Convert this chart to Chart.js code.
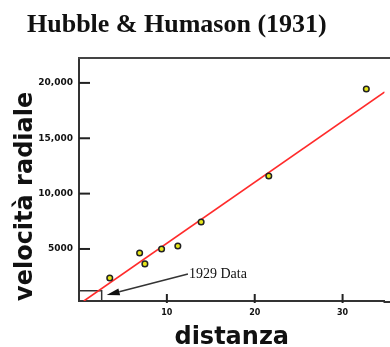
<!DOCTYPE html>
<html>
<head>
<meta charset="utf-8">
<script src="https://cdn.jsdelivr.net/npm/chart.js@4.4.1/dist/chart.umd.min.js"></script>
<style>
  html, body { margin: 0; padding: 0; background: #fff; }
  #wrap { width: 390px; height: 347px; }
</style>
</head>
<body>
<div id="wrap"><canvas id="canvas"></canvas></div>
<script>
// galaxy clusters
var distanza = [3.5, 6.9, 7.5, 9.4, 11.25, 13.9, 21.6, 32.7];
var velocita = [2380, 4640, 3650, 5000, 5270, 7440, 11590, 19450];

// red fitted line (end points)
var fitX = [0.55, 34.8];
var fitY = [300, 19180];

// small box of the 1929 data
var boxX = [0, 2.58, 2.58];
var boxY = [1230, 1230, 300];

// arrow + label pointing at the box
var arrowFrom = [12.4, 2740];
var arrowTo = [3.15, 840];
var arrowText = "1929 Data";

var xTicks = [10, 20, 30];
var xTickLabels = ["10", "20", "30"];
var yTicks = [5000, 10000, 15000, 20000];
var yTickLabels = ["5000", "10,000", "15,000", "20,000"];

var toPoints = function (xs, ys) {
  return xs.map(function (x, i) {
    return { x: x, y: ys[i] };
  });
};

// title, frame lines, inner tick marks, arrow and its label
var extras = {
  id: "extras",
  afterDraw: function (chart) {
    var ctx = chart.ctx;
    var a = chart.chartArea;
    var xs = chart.scales.x;
    var ys = chart.scales.y;
    ctx.save();

    ctx.fillStyle = "#111";
    ctx.font = "bold 26px 'Liberation Serif'";
    ctx.textBaseline = "alphabetic";
    ctx.textAlign = "left";
    ctx.fillText("Hubble & Humason (1931)", 27, 32);

    // top line, and the bottom axis carried on to the edge
    ctx.strokeStyle = "#444";
    ctx.lineWidth = 2;
    ctx.beginPath();
    ctx.moveTo(a.left - 1, a.top);
    ctx.lineTo(chart.width, a.top);
    ctx.stroke();
    ctx.strokeStyle = "#333";
    ctx.beginPath();
    ctx.moveTo(a.right - 1, a.bottom + 1);
    ctx.lineTo(chart.width, a.bottom + 1);
    ctx.stroke();

    ctx.strokeStyle = "#222";
    yTicks.forEach(function (v) {
      var py = ys.getPixelForValue(v);
      ctx.beginPath();
      ctx.moveTo(a.left, py);
      ctx.lineTo(a.left + 11, py);
      ctx.stroke();
    });
    xTicks.forEach(function (v) {
      var px = xs.getPixelForValue(v);
      ctx.beginPath();
      ctx.moveTo(px, a.bottom + 2);
      ctx.lineTo(px, a.bottom - 7);
      ctx.stroke();
    });

    var x1 = xs.getPixelForValue(arrowFrom[0]);
    var y1 = ys.getPixelForValue(arrowFrom[1]);
    var x2 = xs.getPixelForValue(arrowTo[0]);
    var y2 = ys.getPixelForValue(arrowTo[1]);
    var ang = Math.atan2(y2 - y1, x2 - x1);
    var len = 13;
    var bx = x2 - len * Math.cos(ang);
    var by = y2 - len * Math.sin(ang);
    var nx = -Math.sin(ang) * 3.5;
    var ny = Math.cos(ang) * 3.5;
    ctx.strokeStyle = "#333";
    ctx.lineWidth = 1.5;
    ctx.beginPath();
    ctx.moveTo(x1, y1);
    ctx.lineTo(bx, by);
    ctx.stroke();
    ctx.fillStyle = "#111";
    ctx.beginPath();
    ctx.moveTo(x2, y2);
    ctx.lineTo(bx + nx, by + ny);
    ctx.lineTo(bx - nx, by - ny);
    ctx.closePath();
    ctx.fill();

    ctx.font = "14px 'Liberation Serif'";
    ctx.textBaseline = "middle";
    ctx.fillText(arrowText, x1 + 1, y1);

    ctx.restore();
  },
};

const ctx = document.getElementById("canvas").getContext("2d");

const myChart = new Chart(ctx, {
  type: "scatter",
  data: {
    datasets: [
      {
        label: "galassie",
        data: toPoints(distanza, velocita),
        backgroundColor: "#e6e619",
        borderColor: "#222",
        borderWidth: 1.5,
        pointRadius: 2.8,
        order: 0,
      },
      {
        label: "fit",
        type: "line",
        data: toPoints(fitX, fitY),
        borderColor: "#ff2b2b",
        borderWidth: 1.6,
        pointRadius: 0,
        order: 1,
      },
      {
        label: "1929",
        type: "line",
        data: toPoints(boxX, boxY),
        borderColor: "#333",
        borderWidth: 1.5,
        pointRadius: 0,
        order: 2,
      },
    ],
  },
  options: {
    responsive: true,
    maintainAspectRatio: false,
    animation: false,
    layout: { padding: { top: 58, left: 0, right: 0, bottom: 0 } },
    plugins: {
      legend: { display: false },
      tooltip: { enabled: false },
    },
    scales: {
      x: {
        type: "linear",
        min: 0,
        max: 34.77,
        grid: { display: false, drawTicks: false },
        border: { color: "#333", width: 2 },
        afterBuildTicks: function (s) {
          s.ticks = xTicks.map(function (v) {
            return { value: v };
          });
        },
        afterFit: function (s) {
          s.height = 46;
          s.paddingLeft = 0;
          s.paddingRight = 0;
        },
        ticks: {
          padding: 7,
          color: "#111",
          font: { family: "DejaVu Sans", size: 8, weight: "bold" },
          callback: function (v) {
            return xTickLabels[xTicks.indexOf(v)];
          },
        },
        title: {
          display: true,
          text: "distanza",
          color: "#111",
          font: { family: "DejaVu Sans", size: 24, weight: "bold", lineHeight: 0.75 },
          padding: { top: 11, bottom: 0 },
        },
      },
      y: {
        type: "linear",
        min: 300,
        max: 22250,
        grid: { display: false, drawTicks: false },
        border: { color: "#333", width: 2 },
        afterBuildTicks: function (s) {
          s.ticks = yTicks.map(function (v) {
            return { value: v };
          });
        },
        afterFit: function (s) {
          s.width = 79;
          s.paddingTop = 0;
          s.paddingBottom = 0;
        },
        ticks: {
          padding: 6,
          color: "#111",
          font: { family: "DejaVu Sans", size: 9, weight: "bold" },
          callback: function (v) {
            return yTickLabels[yTicks.indexOf(v)];
          },
        },
        title: {
          display: true,
          text: "velocità radiale",
          align: "start",
          color: "#111",
          font: { family: "DejaVu Sans", size: 24, weight: "bold", lineHeight: 0.75 },
          padding: { top: 17, bottom: 0 },
        },
      },
    },
  },
  plugins: [extras],
});
</script>
</body>
</html>
